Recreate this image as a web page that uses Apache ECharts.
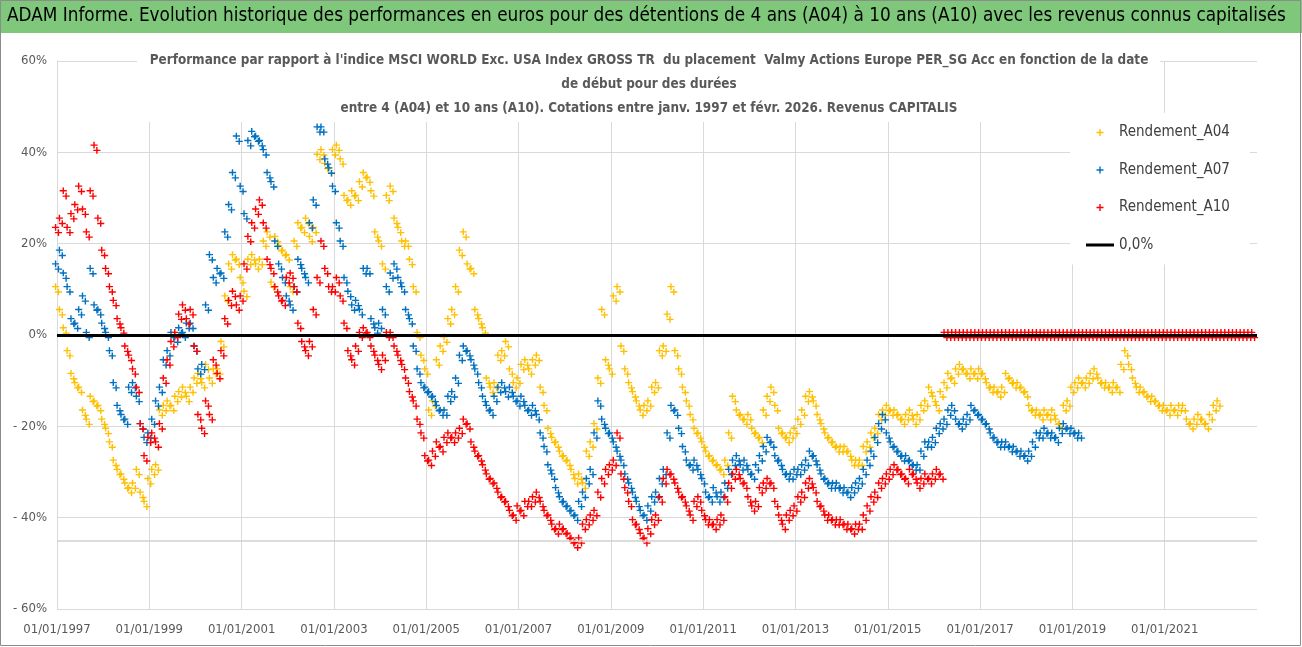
<!DOCTYPE html>
<html><head><meta charset="utf-8">
<script src="https://cdn.jsdelivr.net/npm/echarts@6/dist/echarts.min.js"></script>
<style>html,body{margin:0;padding:0;background:#fff}#c{width:1302px;height:647px}</style>
</head><body><div id="c"></div>
<script>
// Monthly values (%) starting January 1997
const startYear = 1997;
const a04 = [
 10,5,1,-4,-9,-11,-12,-17,-19,-14,-15,-16,
 -19,-21,-24,-28,-30,-31,-33,-34,-33,-30,-35,-37,
 -32,-30,-29,-17,-16,-15,-16,-14,-13,-12,-14,-12,
 -10,-9,-11,-7,-10,-8,-8,-2,8,15,17,16,
 12,9,16,17,15,16,20,22,11,21,19,18,
 17,10,20,24,23,25,21,23,39,40,37,36,
 40,41,38,30,29,31,30,33,35,34,31,22,
 20,15,30,32,25,23,20,20,16,10,0,-5,
 -8,-17,-15,-6,-3,-1,3,5,10,18,22,15,
 14,5,3,1,-10,-12,-11,-5,-4,-2,-8,-11,
 -10,-7,-6,-8,-6,-5,-12,-16,-21,-23,-24,-26,
 -27,-28,-30,-32,-31,-33,-26,-24,-20,-10,5,-6,
 -8,8,10,-3,-8,-11,-13,-15,-17,-16,-15,-12,
 -11,-4,-3,4,10,-4,-8,-12,-15,-18,-21,-22,
 -24,-26,-27,-28,-29,-30,-28,-22,-14,-17,-18,-19,
 -18,-21,-22,-23,-17,-14,-12,-16,-21,-22,-23,-22,
 -21,-19,-17,-14,-13,-15,-18,-20,-22,-23,-24,-25,
 -25,-25,-26,-28,-28,-28,-25,-24,-22,-21,-18,-17,
 -16,-17,-17,-18,-19,-18,-17,-19,-18,-16,-15,-12,
 -14,-16,-13,-11,-9,-10,-8,-7,-8,-9,-8,-9,
 -8,-9,-11,-12,-12,-13,-12,-9,-10,-11,-11,-12,
 -13,-16,-17,-17,-18,-17,-18,-17,-19,-20,-16,-15,
 -12,-11,-10,-11,-10,-9,-8,-10,-11,-11,-12,-11,
 -12,-7,-4,-7,-10,-12,-12,-13,-14,-14,-15,-16,
 -16,-17,-16,-17,-16,-16,-19,-20,-19,-18,-19,-20,
 -18,-16,-15
];
const a07 = [
 15,18,13,10,3,2,5,8,0,14,6,5,
 2,0,-4,-11,-16,-18,-19,-12,-11,-14,-20,-23,
 -22,-19,-15,-12,-6,-4,0,-1,1,0,2,2,
 -3,-8,-7,6,17,12,14,13,22,28,35,43,
 32,26,42,44,43,42,40,35,33,20,15,12,
 8,6,10,16,14,12,24,29,45,45,38,36,
 32,24,20,12,9,6,7,5,14,14,3,1,
 2,5,10,13,15,12,10,5,3,-3,-8,-11,
 -12,-13,-14,-16,-17,-17,-14,-13,-10,-5,-3,-4,
 -6,-8,-11,-14,-16,-17,-14,-12,-11,-13,-12,-14,
 -15,-14,-16,-17,-16,-18,-22,-25,-29,-31,-34,-36,
 -37,-38,-39,-40,-37,-35,-32,-30,-22,-15,-19,-21,
 -22,-24,-26,-28,-31,-33,-35,-37,-39,-40,-38,-36,
 -35,-32,-30,-22,-16,-17,-21,-25,-28,-29,-28,-30,
 -32,-35,-36,-34,-36,-35,-33,-30,-28,-27,-29,-28,
 -30,-31,-29,-27,-25,-23,-24,-27,-28,-30,-31,-31,
 -30,-30,-29,-28,-26,-27,-29,-31,-32,-33,-33,-33,
 -34,-34,-35,-34,-33,-32,-30,-28,-26,-23,-20,-18,
 -22,-24,-25,-26,-27,-27,-28,-29,-29,-26,-24,-24,
 -23,-21,-20,-19,-17,-16,-19,-20,-19,-18,-16,-17,
 -18,-19,-20,-22,-23,-24,-24,-24,-25,-25,-26,-26,
 -27,-26,-24,-22,-22,-21,-22,-22,-23,-21,-20,-21,
 -21,-22,-22
];
const a10 = [
 23,25,31,23,26,28,32,27,22,31,41,25,
 18,14,10,7,3,1,-3,-5,-8,-12,-20,-27,
 -23,-22,-24,-20,-10,-6,-2,0,4,6,3,5,
 -3,-18,-21,-15,-18,-6,-9,-4,3,7,9,6,
 8,15,21,24,27,29,24,16,14,10,8,7,
 12,13,10,2,-2,-4,-2,5,12,20,14,10,
 10,12,8,2,-4,-6,-3,0,1,0,-3,-5,
 -7,-5,0,0,-3,-5,-7,-10,-13,-15,-19,-22,
 -27,-28,-26,-24,-25,-23,-22,-23,-22,-21,-19,-20,
 -24,-26,-27,-29,-31,-32,-33,-35,-36,-37,-39,-40,
 -38,-39,-37,-37,-36,-35,-37,-39,-40,-42,-43,-42,
 -43,-44,-45,-46,-45,-42,-41,-40,-39,-35,-32,-30,
 -29,-28,-22,-31,-34,-37,-41,-42,-44,-45,-43,-41,
 -40,-36,-32,-30,-31,-33,-35,-36,-38,-40,-37,-36,
 -39,-41,-41,-42,-41,-40,-36,-33,-31,-30,-32,-33,
 -36,-38,-37,-34,-33,-32,-33,-37,-40,-42,-40,-39,
 -38,-36,-35,-33,-32,-34,-37,-38,-40,-40,-41,-41,
 -41,-42,-42,-43,-42,-42,-40,-38,-36,-35,-33,-32,
 -31,-30,-29,-30,-31,-32,-30,-31,-33,-32,-31,-32,
 -31,-30,-31,0,0,0,0,0,0,0,0,0,
 0,0,0,0,0,0,0,0,0,0,0,0,
 0,0,0,0,0,0,0,0,0,0,0,0,
 0,0,0,0,0,0,0,0,0,0,0,0,
 0,0,0,0,0,0,0,0,0,0,0,0,
 0,0,0,0,0,0,0,0,0,0,0,0,
 0,0,0,0,0,0,0,0,0,0,0,0
];
const seriesNames = ['Rendement_A04','Rendement_A07','Rendement_A10','0,0%'];
const refLevels = [0, -45];
const mainTitle = 'ADAM Informe. Evolution historique des performances en euros pour des détentions de 4 ans (A04) à 10 ans (A10) avec les revenus connus capitalisés';
const subTitle = "Performance par rapport à l'indice MSCI WORLD Exc. USA Index GROSS TR  du placement  Valmy Actions Europe PER_SG Acc en fonction de la date\nde début pour des durées\nentre 4 (A04) et 10 ans (A10). Cotations entre janv. 1997 et févr. 2026. Revenus CAPITALIS";

const PLUS = 'path://M2,0H3V2H5V3H3V5H2V3H0V2H2Z';
// marker: a small cluster of "+" glyphs, imitating the dense daily plot
const PLUS2 = 'path://M2,0H3V2H5V3H3V5H2V3H0V2H2Z M4,4H5V6H7V7H5V9H4V7H2V6H4Z';
const FONT = "'DejaVu Sans Condensed','Liberation Sans Narrow','DejaVu Sans',sans-serif";
const toPts = arr => arr.map((v, i) => [i / 12, v]);

const chart = echarts.init(document.getElementById('c'), null, {renderer: 'canvas'});
function scatter(name, arr, color, z) {
  return {
    name, type: 'scatter', data: toPts(arr), symbol: PLUS2, symbolSize: [10, 12],
    itemStyle: {color, opacity: 1}, z, silent: true, animation: false
  };
}
chart.setOption({
  animation: false,
  textStyle: {fontFamily: FONT},
  graphic: [
    {type: 'rect', shape: {x: 0, y: 0, width: 1302, height: 33}, style: {fill: '#7ec77b'}, z: -10},
    {type: 'rect', shape: {x: 137, y: 48, width: 1023, height: 74}, style: {fill: '#fff'}, z: 10},
    {type: 'text', z: 11, style: {text: subTitle, x: 649, y: 49, align: 'center', verticalAlign: 'top',
      lineHeight: 24, fill: '#595959', font: "bold 13.4px " + FONT}},
    {type: 'rect', shape: {x: 0.5, y: 0.5, width: 1300, height: 645}, style: {fill: 'none', stroke: '#8c8c8c', lineWidth: 1}, z: 100}
  ],
  title: {
    text: mainTitle, left: 7, top: 7, padding: 0,
    textStyle: {fontFamily: FONT, fontSize: 18.8, fontWeight: 'normal', color: '#000'}
  },
  legend: {
    orient: 'vertical', left: 1070, top: 113, padding: [12, 20, 12, 16],
    backgroundColor: '#fff', itemGap: 22.5, itemWidth: 28, itemHeight: 7,
    textStyle: {fontFamily: FONT, fontSize: 15, color: '#404040'},
    data: [
      {name: seriesNames[0], icon: PLUS},
      {name: seriesNames[1], icon: PLUS},
      {name: seriesNames[2], icon: PLUS},
      {name: seriesNames[3], icon: 'path://M0,0H28V3H0Z'}
    ]
  },
  grid: {left: 57, right: 45, top: 61, bottom: 38, containLabel: false},
  xAxis: {
    type: 'value', min: 0, max: 26, interval: 2,
    axisLine: {show: true, lineStyle: {color: '#d9d9d9', width: 1}},
    axisTick: {show: false},
    axisLabel: {color: '#595959', fontSize: 13, margin: 14, showMaxLabel: false,
      formatter: v => '01/01/' + (startYear + v)},
    splitLine: {show: true, showMaxLine: false, lineStyle: {color: '#d9d9d9', width: 1}}
  },
  yAxis: {
    type: 'value', min: -60, max: 60, interval: 20,
    axisLine: {show: true, lineStyle: {color: '#d9d9d9', width: 1}},
    axisTick: {show: false},
    axisLabel: {color: '#595959', fontSize: 13, margin: 10,
      formatter: v => v < 0 ? '- ' + (-v) + '%' : v + '%'},
    splitLine: {show: true, lineStyle: {color: '#d9d9d9', width: 1}}
  },
  series: [
    scatter(seriesNames[0], a04, '#ffc000', 2),
    scatter(seriesNames[1], a07, '#0070c0', 2),
    {
      name: seriesNames[3], type: 'line', data: [], z: 3, color: '#000',
      lineStyle: {color: '#000', width: 3}, symbol: 'none',
      markLine: {
        silent: true, symbol: 'none', label: {show: false}, animation: false,
        data: [
          {yAxis: refLevels[0], lineStyle: {color: '#000', width: 3, type: 'solid'}},
          {yAxis: refLevels[1], lineStyle: {color: '#d0d0d0', width: 1.5, type: 'solid'}}
        ]
      }
    },
    scatter(seriesNames[2], a10, '#ff0000', 4)
  ]
});
</script></body></html>
